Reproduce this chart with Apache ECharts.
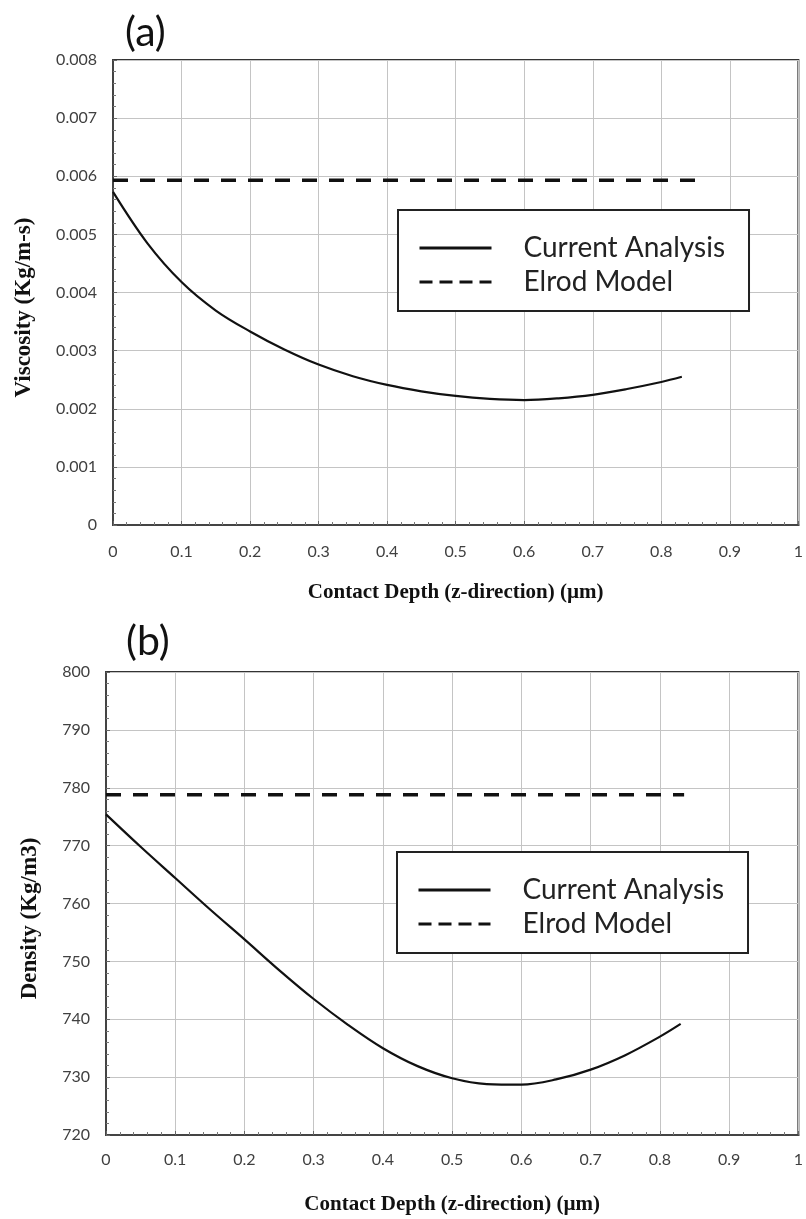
<!DOCTYPE html>
<html>
<head>
<meta charset="utf-8">
<script src="https://cdn.jsdelivr.net/npm/echarts@6/dist/echarts.min.js"></script>
<style>
html,body{margin:0;padding:0;background:#fff;}
#chart{width:806px;height:1219px;}
</style>
</head>
<body>
<div id="chart"></div>
<script>
// ---- data ----
const depthCurrent = [0, 0.05, 0.1, 0.15, 0.2, 0.25, 0.3, 0.35, 0.4, 0.45, 0.5, 0.55, 0.6, 0.65, 0.7, 0.75, 0.8, 0.83];
const viscosityCurrent = [0.00573, 0.00485, 0.00418, 0.00369, 0.00333, 0.00302, 0.00276, 0.00256, 0.00241, 0.00230, 0.00222, 0.00217, 0.00215, 0.00218, 0.00224, 0.00234, 0.00246, 0.00255];
const depthElrodA = [0, 0.85];
const viscosityElrod = [0.00593, 0.00593];
const densityCurrent = [775.4, 769.8, 764.4, 759.0, 753.8, 748.5, 743.5, 739.0, 735.0, 731.9, 729.8, 728.8, 728.7, 729.6, 731.3, 733.8, 737.0, 739.2];
const depthElrodB = [0, 0.835];
const densityElrod = [778.8, 778.8];
const xTickLabels = ['0', '0.1', '0.2', '0.3', '0.4', '0.5', '0.6', '0.7', '0.8', '0.9', '1'];
const viscosityTickLabels = ['0', '0.001', '0.002', '0.003', '0.004', '0.005', '0.006', '0.007', '0.008'];
const densityTickLabels = ['720', '730', '740', '750', '760', '770', '780', '790', '800'];
const seriesNames = ['Current Analysis', 'Elrod Model'];
const xTitle = 'Contact Depth (z-direction) (\u00b5m)';
const yTitleA = 'Viscosity (Kg/m-s)';
const yTitleB = 'Density (Kg/m3)';

const zip = (xs, ys) => xs.map((x, i) => [x, ys[i]]);

const labelFont = 'Lato';
const titleFont = 'Liberation Serif';

function xAxisCfg(gridIndex, margin, nameGap) {
  return {
    type: 'value', gridIndex, min: 0, max: 1, interval: 0.1,
    name: xTitle, nameLocation: 'middle', nameGap,
    nameTextStyle: { fontFamily: titleFont, fontWeight: 'bold', fontSize: 21, color: '#111' },
    axisLine: { show: true, lineStyle: { color: '#444', width: 2 } },
    axisTick: { show: true, inside: true, length: 4, lineStyle: { color: '#666' } },
    minorTick: { show: true, splitNumber: 5, length: 3, lineStyle: { color: '#777' } },
    splitLine: { show: true, lineStyle: { color: '#c4c4c4', width: 1 } },
    axisLabel: {
      margin, fontFamily: labelFont, fontSize: 16, color: '#404040',
      formatter: (v) => xTickLabels[Math.round(v * 10)]
    }
  };
}

function yAxisCfg(gridIndex, min, max, interval, labels, name, nameGap) {
  return {
    type: 'value', gridIndex, min, max, interval,
    name, nameLocation: 'middle', nameGap,
    nameTextStyle: { fontFamily: titleFont, fontWeight: 'bold', fontSize: 23, color: '#111', padding: [0, 30, 0, 0] },
    axisLine: { show: true, lineStyle: { color: '#444', width: 2 } },
    axisTick: { show: true, inside: true, length: 4, lineStyle: { color: '#666' } },
    minorTick: { show: true, splitNumber: 5, length: 3, lineStyle: { color: '#777' } },
    splitLine: { show: true, lineStyle: { color: '#c4c4c4', width: 1 } },
    axisLabel: {
      margin: 16, fontFamily: labelFont, fontSize: 16, color: '#404040',
      formatter: (v) => labels[Math.round((v - min) / interval)]
    }
  };
}

function legendCfg(left, top) {
  return {
    left, top, orient: 'vertical',
    data: [
      { name: seriesNames[0], lineStyle: { width: 3 } },
      { name: seriesNames[1], lineStyle: { type: [13, 7], width: 3 } }
    ],
    itemWidth: 72, itemHeight: 20, itemGap: 6,
    itemStyle: { color: 'transparent', borderColor: 'transparent', borderWidth: 0 },
    padding: [24, 24, 15, 20],
    borderColor: '#222', borderWidth: 2, backgroundColor: '#fff',
    textStyle: { fontFamily: labelFont, fontSize: 28, color: '#222', lineHeight: 26, padding: [0, 0, 0, 27] },
    selectedMode: false
  };
}

const option = {
  backgroundColor: '#fff',
  animation: false,
  grid: [
    { left: 113, right: 7, top: 60, height: 465, show: true, borderColor: '#333', borderWidth: 2, backgroundColor: 'transparent' },
    { left: 106, right: 5, top: 672, height: 463, show: true, borderColor: '#333', borderWidth: 2, backgroundColor: 'transparent' }
  ],
  xAxis: [xAxisCfg(0, 19, 57), xAxisCfg(1, 17, 59)],
  yAxis: [
    yAxisCfg(0, 0, 0.008, 0.001, viscosityTickLabels, yTitleA, 77),
    yAxisCfg(1, 720, 800, 10, densityTickLabels, yTitleB, 64)
  ],
  legend: [legendCfg(398, 210), legendCfg(397, 852)],
  graphic: [
    { type: 'text', left: 125, top: 12, style: { text: '(a)', font: '41px Lato', fill: '#111' } },
    { type: 'text', left: 126, top: 621, style: { text: '(b)', font: '41px Lato', fill: '#111' } }
  ],
  series: [
    { name: seriesNames[0], type: 'line', xAxisIndex: 0, yAxisIndex: 0, smooth: 0.35, symbol: 'none',
      lineStyle: { color: '#111', width: 2.2 }, itemStyle: { color: '#111' },
      data: zip(depthCurrent, viscosityCurrent) },
    { name: seriesNames[1], type: 'line', xAxisIndex: 0, yAxisIndex: 0, symbol: 'none',
      lineStyle: { color: '#111', width: 3.5, type: [15, 12] }, itemStyle: { color: '#111' },
      data: zip(depthElrodA, viscosityElrod) },
    { name: seriesNames[0], type: 'line', xAxisIndex: 1, yAxisIndex: 1, smooth: 0.35, symbol: 'none',
      lineStyle: { color: '#111', width: 2.2 }, itemStyle: { color: '#111' },
      data: zip(depthCurrent, densityCurrent) },
    { name: seriesNames[1], type: 'line', xAxisIndex: 1, yAxisIndex: 1, symbol: 'none',
      lineStyle: { color: '#111', width: 3.5, type: [15, 12] }, itemStyle: { color: '#111' },
      data: zip(depthElrodB, densityElrod) }
  ]
};

const chart = echarts.init(document.getElementById('chart'), null, { renderer: 'canvas' });
chart.setOption(option);
</script>
</body>
</html>
